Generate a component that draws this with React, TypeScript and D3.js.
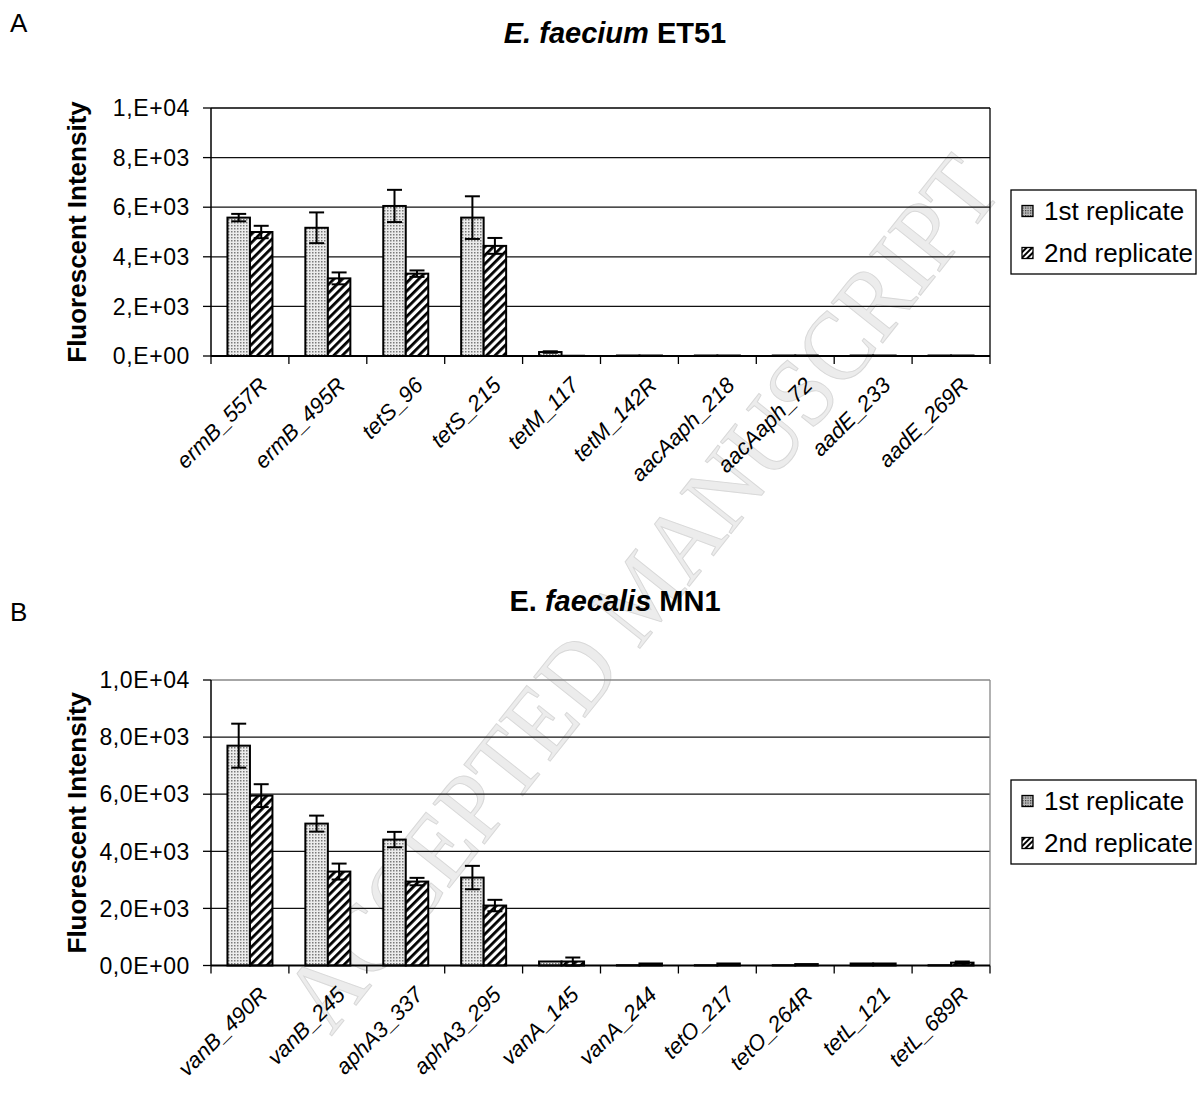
import React from "react";
import * as d3 from "d3";

// panel A: E. faecium ET51
const catsA = ["ermB_557R", "ermB_495R", "tetS_96", "tetS_215", "tetM_117", "tetM_142R", "aacAaph_218", "aacAaph_72", "aadE_233", "aadE_269R"];
const rep1A = [5580, 5170, 6050, 5580, 160, 20, 20, 20, 20, 20];
const rep2A = [5000, 3130, 3320, 4440, 10, 20, 20, 20, 20, 20];
const err1A = [150, 620, 650, 860, 30, 0, 0, 0, 0, 0];
const err2A = [250, 240, 130, 320, 0, 0, 0, 0, 0, 0];
const ticksA = ["0,E+00", "2,E+03", "4,E+03", "6,E+03", "8,E+03", "1,E+04"];

// panel B: E. faecalis MN1
const catsB = ["vanB_490R", "vanB_245", "aphA3_337", "aphA3_295", "vanA_145", "vanA_244", "tetO_217", "tetO_264R", "tetL_121", "tetL_689R"];
const rep1B = [7700, 4970, 4410, 3080, 140, 10, 10, 10, 70, 10];
const rep2B = [5950, 3290, 2940, 2100, 140, 70, 70, 50, 70, 100];
const err1B = [770, 280, 270, 410, 0, 0, 0, 0, 0, 0];
const err2B = [400, 280, 130, 200, 140, 0, 0, 0, 0, 40];
const ticksB = ["0,0E+00", "2,0E+03", "4,0E+03", "6,0E+03", "8,0E+03", "1,0E+04"];

const tickValues = [0, 2000, 4000, 6000, 8000, 10000];
const seriesNames = ["1st replicate", "2nd replicate"];
const font = "'Liberation Sans', Arial, sans-serif";

const left = 211;
const right = 990;

type PanelProps = {
  cats: string[];
  rep1: number[];
  rep2: number[];
  err1: number[];
  err2: number[];
  tickLabels: string[];
  top: number;
  bottom: number;
  letter: string;
  letterY: number;
  titleY: number;
  title: React.ReactNode;
  legendTop: number;
  borderColor: string;
};

const Panel = (p: PanelProps) => {
  const x = d3.scaleBand<string>().domain(p.cats).range([left, right]);
  const groupW = 45;
  const xs = d3.scaleBand<number>().domain([0, 1]).range([0, groupW]);
  const y = d3.scaleLinear().domain([0, 10000]).range([p.bottom, p.top]);
  const series = [
    { vals: p.rep1, errs: p.err1, fill: "url(#dots)" },
    { vals: p.rep2, errs: p.err2, fill: "url(#hatch)" },
  ];
  const boundaries = p.cats.map((c) => x(c)!).concat([right]);

  return (
    <g>
      <text x={10} y={p.letterY} fontFamily={font} fontSize={26}>{p.letter}</text>
      <text x={615} y={p.titleY} fontFamily={font} fontSize={29} fontWeight="bold" textAnchor="middle">{p.title}</text>

      {/* grid */}
      {tickValues.slice(1).map((t) => (
        <line key={t} x1={left} x2={right} y1={y(t)} y2={y(t)} stroke={t === 10000 ? p.borderColor : "#111"} strokeWidth={1.3} />
      ))}
      <line x1={right} x2={right} y1={p.top} y2={p.bottom} stroke={p.borderColor} strokeWidth={1.3} />

      {/* y axis */}
      <line x1={left} x2={left} y1={p.top} y2={p.bottom} stroke="#000" strokeWidth={1.5} />
      {tickValues.map((t, i) => (
        <g key={t}>
          <line x1={left - 8} x2={left} y1={y(t)} y2={y(t)} stroke="#000" strokeWidth={1.3} />
          <text x={left - 21} y={y(t)} dy="0.36em" textAnchor="end" fontFamily={font} fontSize={23} letterSpacing={0.6}>{p.tickLabels[i]}</text>
        </g>
      ))}
      <text transform={`translate(86,${(p.top + p.bottom) / 2}) rotate(-90)`} textAnchor="middle" fontFamily={font} fontSize={26} fontWeight="bold">Fluorescent Intensity</text>

      {/* bars */}
      {series.map((s, si) =>
        p.cats.map((c, i) => {
          const bx = x(c)! + (x.bandwidth() - groupW) / 2 + xs(si)!;
          const bw = xs.bandwidth();
          const v = s.vals[i];
          const e = s.errs[i];
          const cx = bx + bw / 2;
          return (
            <g key={`${si}-${c}`}>
              <rect x={bx} y={y(v)} width={bw} height={p.bottom - y(v)} fill={s.fill} stroke="#000" strokeWidth={2} />
              {e > 0 && (
                <g stroke="#000" strokeWidth={2}>
                  <line x1={cx} x2={cx} y1={y(v + e)} y2={y(v - e)} />
                  <line x1={cx - 7.5} x2={cx + 7.5} y1={y(v + e)} y2={y(v + e)} />
                  <line x1={cx - 7.5} x2={cx + 7.5} y1={y(v - e)} y2={y(v - e)} />
                </g>
              )}
            </g>
          );
        })
      )}

      {/* x axis */}
      <line x1={left} x2={right} y1={p.bottom} y2={p.bottom} stroke="#000" strokeWidth={2} />
      {boundaries.map((b, i) => (
        <line key={i} x1={b} x2={b} y1={p.bottom} y2={p.bottom + 8} stroke="#000" strokeWidth={1.3} />
      ))}
      {p.cats.map((c) => (
        <text
          key={c}
          transform={`translate(${x(c)! + x.bandwidth() / 2 + 7},${p.bottom + 19}) rotate(-45)`}
          dy="0.75em"
          textAnchor="end"
          fontFamily={font}
          fontSize={22}
          fontStyle="italic"
        >
          {c}
        </text>
      ))}

      {/* legend */}
      <rect x={1011} y={p.legendTop} width={185} height={84} fill="#fff" stroke="#000" strokeWidth={1.3} />
      {seriesNames.map((n, i) => {
        const cy = p.legendTop + 21 + i * 42;
        return (
          <g key={n}>
            <rect x={1022} y={cy - 5.5} width={11} height={11} fill={i === 0 ? "url(#dotsL)" : "url(#hatchL)"} stroke="#000" strokeWidth={1.3} />
            <text x={1044} y={cy} dy="0.35em" fontFamily={font} fontSize={26}>{n}</text>
          </g>
        );
      })}
    </g>
  );
};

const App = () => {
  return (
    <svg width={1198} height={1102} style={{ position: "absolute", left: 0, top: 0, background: "#fff" }}>
      <defs>
        <pattern id="dots" width={3} height={3} patternUnits="userSpaceOnUse">
          <rect width={3} height={3} fill="#ececec" />
          <rect width={1.5} height={1.5} fill="#7a7a7a" />
        </pattern>
        <pattern id="hatch" width={6} height={6} patternUnits="userSpaceOnUse" patternTransform="rotate(45)">
          <rect width={6} height={6} fill="#fff" />
          <rect width={2.8} height={6} fill="#000" />
        </pattern>
        <pattern id="dotsL" width={2.5} height={2.5} patternUnits="userSpaceOnUse">
          <rect width={2.5} height={2.5} fill="#bbb" />
          <rect width={1.2} height={1.2} fill="#333" />
        </pattern>
        <pattern id="hatchL" width={4} height={4} patternUnits="userSpaceOnUse" patternTransform="rotate(45)">
          <rect width={4} height={4} fill="#fff" />
          <rect width={2} height={4} fill="#000" />
        </pattern>
      </defs>
      <rect width={1198} height={1102} fill="#fff" />

      {/* watermark behind the charts */}
      <text
        transform="translate(640,592) rotate(-51.5)"
        textAnchor="middle"
        dy="0.35em"
        fontFamily="'Liberation Serif', 'Times New Roman', serif"
        fontSize={100}
        textLength={1080}
        lengthAdjust="spacingAndGlyphs"
        fill="#ececec"
        stroke="#d8d8d8"
        strokeWidth={1}
      >
        ACCEPTED MANUSCRIPT
      </text>

      <Panel
        cats={catsA}
        rep1={rep1A}
        rep2={rep2A}
        err1={err1A}
        err2={err2A}
        tickLabels={ticksA}
        top={108}
        bottom={356}
        letter="A"
        letterY={32}
        titleY={43}
        title={<><tspan fontStyle="italic">E. faecium</tspan> ET51</>}
        legendTop={190}
        borderColor="#000"
      />
      <Panel
        cats={catsB}
        rep1={rep1B}
        rep2={rep2B}
        err1={err1B}
        err2={err2B}
        tickLabels={ticksB}
        top={680}
        bottom={965.5}
        letter="B"
        letterY={621}
        titleY={611}
        title={<>E. <tspan fontStyle="italic">faecalis</tspan> MN1</>}
        legendTop={780}
        borderColor="#888"
      />
    </svg>
  );
};

export default App;
